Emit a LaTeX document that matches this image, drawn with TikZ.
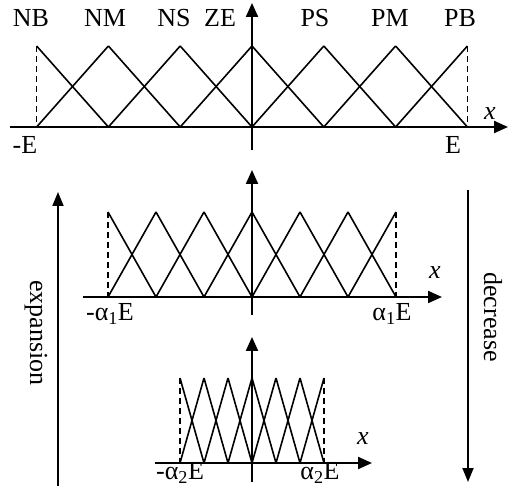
\documentclass[tikz,border=0pt]{standalone}
\usepackage{fontspec}
\setmainfont{Liberation Serif}
\usetikzlibrary{arrows.meta}
\newcommand\fuzzyset[4]{%
  \foreach \k in {0,...,5}{%
    \draw[mf] ({#1+\k*#2},#4) -- ({#1+(\k+1)*#2},#3);
    \draw[mf] ({#1+\k*#2},#3) -- ({#1+(\k+1)*#2},#4);
  }
  \draw[bound] (#1,#4) -- (#1,#3);
  \draw[bound] ({#1+6*#2},#4) -- ({#1+6*#2},#3);
}
\begin{document}
\begin{tikzpicture}[x=1pt,y=-1pt,
  axis/.style={line width=2.2pt,-{Triangle[length=14pt,width=12pt]}},
  side/.style={line width=1.8pt,-{Triangle[length=14pt,width=11pt]}},
  mf/.style={line width=1.6pt},
  bound/.style={line width=1.5pt,dash pattern=on 6pt off 4pt},
  lbl/.style={font=\fontsize{26}{30}\selectfont,inner sep=0pt},
  ]
\useasboundingbox (0,0) rectangle (509,486);
% top panel
\fuzzyset{36.6}{71.8}{127}{46}
\coordinate (xa1) at (10,127); \coordinate (xb1) at (508,127);
\coordinate (ya1) at (252,150); \coordinate (yb1) at (252,3);
\draw[axis] (xa1) -- (xb1);
\draw[axis] (ya1) -- (yb1);
\node[lbl] (nb) at (31,18) {NB};
\node[lbl] (nm) at (105,18) {NM};
\node[lbl] (ns) at (174,18) {NS};
\node[lbl] (ze) at (220,18) {ZE};
\node[lbl] (ps) at (315,18) {PS};
\node[lbl] (pm) at (390,18) {PM};
\node[lbl] (pb) at (460,18) {PB};
\node[lbl] (x1) at (490,114) {\textit{x}};
\node[lbl] (me) at (25,145) {-E};
\node[lbl] (pe) at (453,145) {E};
% middle panel
\fuzzyset{108}{48}{297}{212}
\coordinate (xa2) at (83,297); \coordinate (xb2) at (442,297);
\coordinate (ya2) at (252,315); \coordinate (yb2) at (252,170);
\draw[axis] (xa2) -- (xb2);
\draw[axis] (ya2) -- (yb2);
\node[lbl] (x2) at (435,273) {\textit{x}};
\node[lbl] (ma1) at (110,314) {-α\textsubscript{1}E};
\node[lbl] (pa1) at (392,314) {α\textsubscript{1}E};
% bottom panel
\fuzzyset{180}{24}{463}{378}
\coordinate (xa3) at (155,463); \coordinate (xb3) at (372,463);
\coordinate (ya3) at (252,482); \coordinate (yb3) at (252,337);
\draw[axis] (xa3) -- (xb3);
\draw[axis] (ya3) -- (yb3);
\node[lbl] (x3) at (363,439) {\textit{x}};
\node[lbl] (ma2) at (180,473) {-α\textsubscript{2}E};
\node[lbl] (pa2) at (320,473) {α\textsubscript{2}E};
% side arrows
\coordinate (ea) at (58,486); \coordinate (eb) at (58,192);
\draw[side] (ea) -- (eb);
\node[lbl,rotate=-90] (exp) at (36,333) {expansion};
\coordinate (da) at (468,190); \coordinate (db) at (468,482);
\draw[side] (da) -- (db);
\node[lbl,rotate=-90] (dec) at (493,317) {decrease};
\end{tikzpicture}
\end{document}
